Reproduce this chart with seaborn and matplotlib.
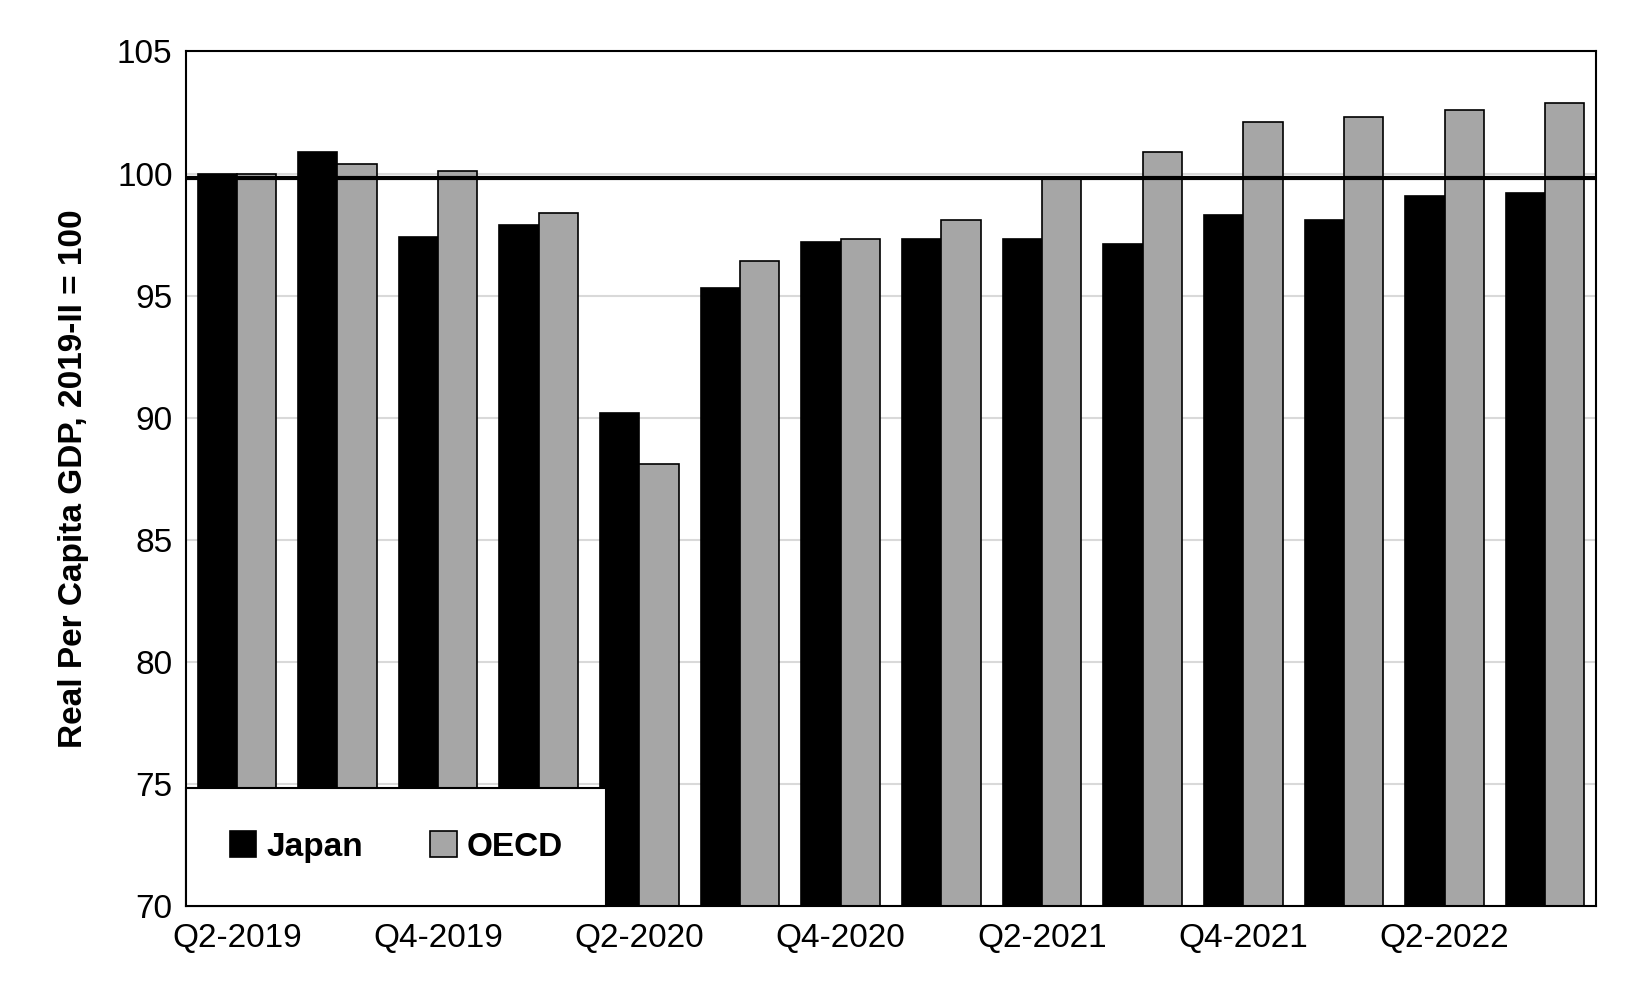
import pandas as pd
import matplotlib.pyplot as plt
import seaborn as sns

quarters = ["Q2-2019", "Q3-2019", "Q4-2019", "Q1-2020", "Q2-2020", "Q3-2020", "Q4-2020",
            "Q1-2021", "Q2-2021", "Q3-2021", "Q4-2021", "Q1-2022", "Q2-2022", "Q3-2022"]
japan = [100.0, 100.9, 97.4, 97.9, 90.2, 95.3, 97.2, 97.3, 97.3, 97.1, 98.3, 98.1, 99.1, 99.2]
oecd = [100.0, 100.4, 100.1, 98.4, 88.1, 96.4, 97.3, 98.1, 99.8, 100.9, 102.1, 102.3, 102.6, 102.9]
ref_level = 99.8

df = pd.DataFrame({
    "Quarter": quarters * 2,
    "Value": japan + oecd,
    "Series": ["Japan"] * len(quarters) + ["OECD"] * len(quarters),
})

sns.set_style("white")
plt.rcParams["font.family"] = ["Liberation Sans", "DejaVu Sans"]
plt.rcParams["text.color"] = "black"
plt.rcParams["axes.labelcolor"] = "black"
plt.rcParams["xtick.color"] = "black"
plt.rcParams["ytick.color"] = "black"

fig = plt.figure(figsize=(16.5, 9.9), dpi=100)
ax = fig.add_axes([0.113, 0.085, 0.854, 0.863])
ax.grid(axis="y", color="#d9d9d9", linewidth=1.5, zorder=0)
ax.set_axisbelow(True)

sns.barplot(data=df, x="Quarter", y="Value", hue="Series",
            palette={"Japan": "black", "OECD": "#a6a6a6"},
            edgecolor="black", linewidth=1.2, width=0.78, ax=ax, zorder=2)
ax.axhline(ref_level, color="black", linewidth=3, zorder=3)

ax.set_ylim(70, 105)
ax.set_yticks(range(70, 106, 5))
ax.set_xlim(-0.5, len(quarters) - 0.5)
ax.set_xticks(range(0, len(quarters), 2))
ax.set_xticklabels(quarters[::2])
ax.tick_params(axis="both", labelsize=24, length=0)
ax.tick_params(axis="x", pad=12)
ax.tick_params(axis="y", pad=10)
ax.set_xlabel("")
ax.set_ylabel("Real Per Capita GDP, 2019-II = 100", fontsize=24, fontweight="bold", labelpad=20)
for s in ax.spines.values():
    s.set_color("black")
    s.set_linewidth(1.5)

leg = ax.legend(loc="lower left", ncol=2, fontsize=24, frameon=True, fancybox=False,
                edgecolor="black", framealpha=1, facecolor="white", borderpad=1.3,
                handlelength=0.8, handleheight=0.8, handletextpad=0.3,
                columnspacing=2.0, borderaxespad=0)
for t in leg.get_texts():
    t.set_fontweight("bold")
leg.get_frame().set_linewidth(1.5)
leg.set_zorder(5)

fig.savefig("out.png", dpi=100, facecolor="white")
